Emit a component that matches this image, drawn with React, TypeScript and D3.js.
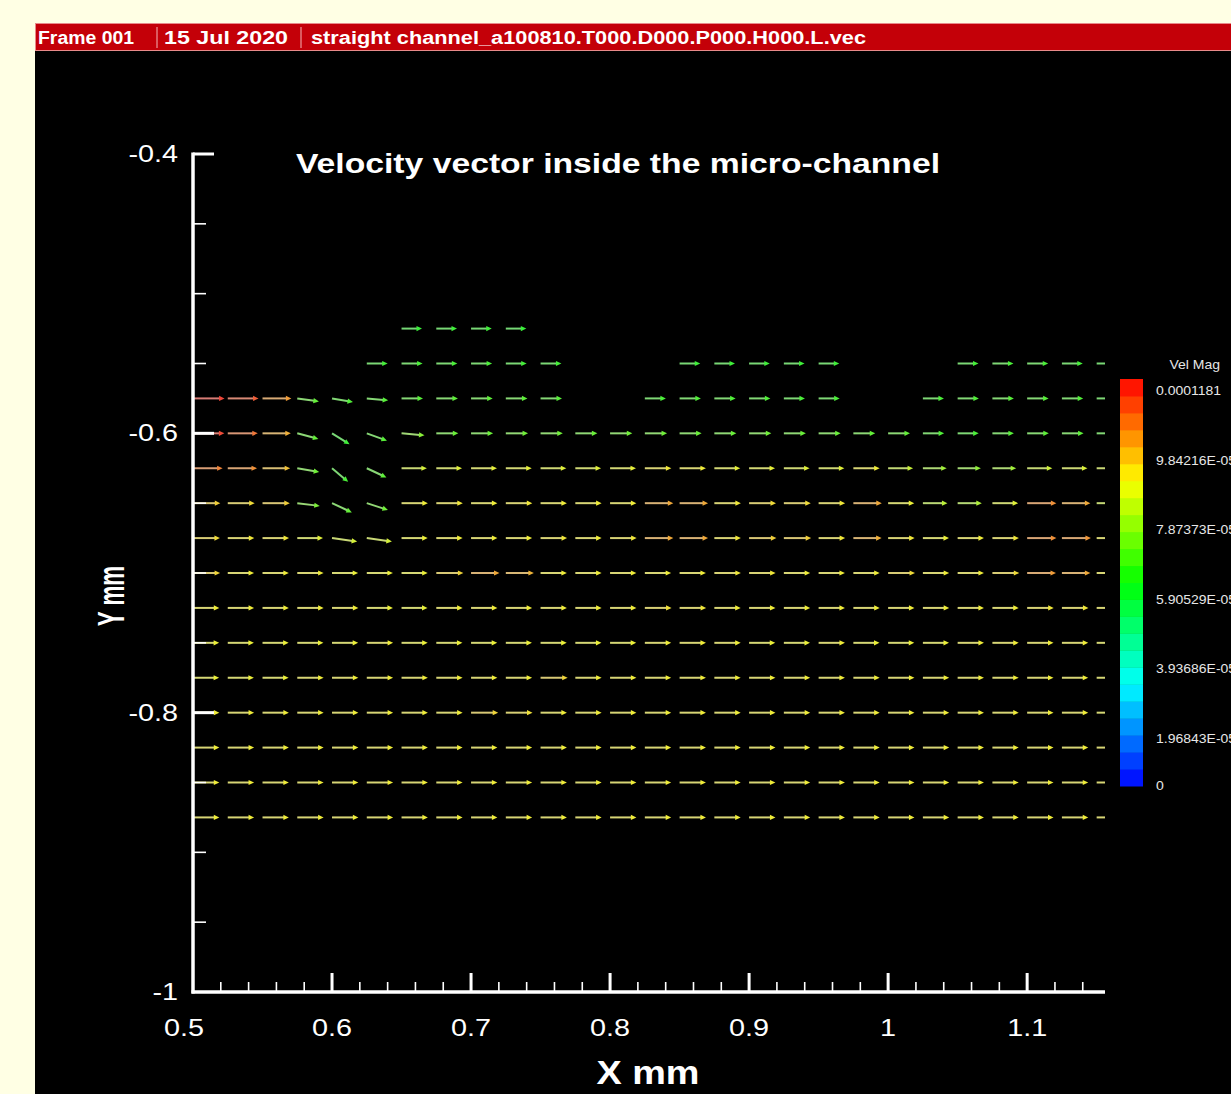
import React from 'react';
import * as d3 from 'd3';

// ---------- data ----------
const headerFields = ['Frame 001', '15 Jul 2020', 'straight channel_a100810.T000.D000.P000.H000.L.vec'];
const chartTitle = 'Velocity vector inside the micro-channel';

// grid columns (X, mm) and rows (Y, mm)
const xCols = [0.5, 0.525, 0.55, 0.575, 0.6, 0.625, 0.65, 0.675, 0.7, 0.725, 0.75, 0.775, 0.8, 0.825,
  0.85, 0.875, 0.9, 0.925, 0.95, 0.975, 1.0, 1.025, 1.05, 1.075, 1.1, 1.125, 1.15];
const yRows = [-0.525, -0.55, -0.575, -0.6, -0.625, -0.65, -0.675, -0.7, -0.725, -0.75, -0.775, -0.8,
  -0.825, -0.85, -0.875];

const N = null;
// velocity magnitude per grid node, in 1e-5 (m/s); null = no vector
const velMag: (number | null)[][] = [
  [N, N, N, N, N, N, 5.9, 6.0, 6.0, 5.9, N, N, N, N, N, N, N, N, N, N, N, N, N, N, N, N, N],
  [N, N, N, N, N, 6.1, 6.2, 6.2, 6.2, 6.1, 6.1, N, N, N, 6.0, 6.0, 6.0, 6.0, 6.0, N, N, N, 6.1, 6.2, 6.2, 6.1, 6.0],
  [11.6, 11.2, 10.2, 6.6, 6.3, 6.4, 6.4, 6.5, 6.5, 6.5, 6.4, N, N, 6.2, 6.3, 6.3, 6.3, 6.2, 6.2, N, N, 6.2, 6.3, 6.4, 6.4, 6.3, 6.2],
  [11.5, 10.8, 9.9, 6.6, 6.0, 6.4, 7.2, 6.7, 6.7, 6.8, 6.8, 6.7, 6.8, 6.8, 6.7, 6.7, 6.8, 6.7, 6.7, 6.6, 6.6, 6.3, 6.2, 6.4, 6.5, 6.5, 6.3],
  [10.6, 10.4, 9.6, 6.8, 6.2, 6.5, 8.4, 8.6, 8.7, 8.7, 8.6, 8.6, 8.7, 9.0, 8.9, 8.7, 8.7, 8.6, 8.6, 8.9, 8.2, 7.6, 7.3, 7.6, 8.3, 8.5, 8.4],
  [9.4, 9.2, 9.4, 7.0, 6.6, 6.8, 8.9, 9.0, 8.9, 9.0, 8.9, 8.9, 8.9, 10.0, 10.0, 9.0, 9.2, 9.2, 9.0, 10.0, 8.8, 8.0, 7.8, 8.6, 10.4, 10.0, 8.3],
  [9.2, 9.0, 9.0, 8.6, 8.4, 8.4, 8.8, 8.9, 8.9, 8.9, 9.0, 8.9, 9.0, 10.0, 10.0, 9.0, 9.4, 9.4, 9.0, 9.9, 9.0, 8.8, 8.9, 9.0, 10.4, 10.3, 8.9],
  [9.3, 8.9, 8.9, 8.9, 8.8, 8.8, 8.8, 9.3, 10.0, 9.8, 8.9, 8.9, 8.9, 8.9, 8.9, 9.0, 9.0, 8.9, 8.9, 8.9, 9.2, 8.9, 8.9, 9.2, 10.2, 10.0, 8.9],
  [8.9, 8.9, 8.9, 8.9, 8.9, 8.8, 8.7, 8.9, 8.9, 8.9, 8.9, 8.9, 8.9, 9.1, 9.0, 8.9, 8.9, 8.9, 8.9, 8.9, 8.9, 8.9, 8.9, 8.9, 9.0, 9.0, 8.9],
  [8.8, 8.8, 8.8, 8.8, 8.8, 8.9, 8.8, 8.8, 8.8, 8.8, 8.8, 8.8, 8.8, 8.9, 8.9, 8.9, 8.8, 8.8, 8.9, 8.8, 8.8, 8.8, 8.9, 8.9, 8.9, 8.9, 8.8],
  [8.8, 8.8, 8.8, 8.9, 8.9, 8.9, 8.9, 8.9, 8.9, 8.9, 9.3, 8.9, 8.9, 8.9, 8.9, 8.9, 8.9, 8.9, 8.9, 8.9, 8.9, 8.9, 8.9, 8.9, 8.9, 8.9, 8.8],
  [8.9, 8.9, 8.9, 8.9, 8.9, 8.9, 8.9, 8.9, 9.3, 9.1, 8.9, 8.9, 8.9, 8.9, 8.9, 8.9, 8.9, 8.9, 8.9, 8.9, 8.9, 8.9, 8.9, 8.9, 8.9, 8.9, 8.8],
  [8.9, 8.9, 8.9, 8.9, 8.9, 8.9, 8.9, 8.9, 8.9, 8.9, 8.9, 8.9, 8.9, 8.9, 8.9, 8.9, 8.9, 8.9, 8.9, 8.9, 8.9, 8.9, 8.9, 8.9, 8.9, 8.9, 8.9],
  [8.9, 8.9, 8.9, 8.9, 8.9, 8.9, 8.9, 8.9, 8.9, 8.9, 8.9, 8.9, 8.9, 8.9, 8.9, 8.9, 8.9, 8.9, 8.9, 8.9, 8.9, 8.9, 8.9, 8.9, 8.9, 8.9, 8.9],
  [8.9, 8.9, 8.9, 8.9, 8.9, 8.9, 8.9, 8.9, 8.9, 8.9, 8.9, 8.9, 8.9, 8.9, 8.9, 8.9, 8.9, 8.9, 8.9, 8.9, 8.9, 8.9, 8.9, 8.9, 8.9, 8.9, 8.9],
];

// [rowIndex, colIndex, angle in degrees] for vectors that are not horizontal
const vecAngles: [number, number, number][] = [
  [2, 3, -8], [2, 4, -10], [2, 5, -5],
  [3, 3, -15], [3, 4, -32], [3, 5, -20], [3, 6, -5],
  [4, 3, -10], [4, 4, -40], [4, 5, -25],
  [5, 3, -7], [5, 4, -25], [5, 5, -18],
  [6, 4, -8], [6, 5, -8],
];

const xMajorTicks = [0.5, 0.6, 0.7, 0.8, 0.9, 1.0, 1.1];
const xTickLabels = ['0.5', '0.6', '0.7', '0.8', '0.9', '1', '1.1'];
const yMajorTicks = [-0.4, -0.6, -0.8, -1];
const yTickLabels = ['-0.4', '-0.6', '-0.8', '-1'];

const legendTitle = 'Vel Mag';
const legendValues = [0.0001181, 9.84216e-5, 7.87373e-5, 5.90529e-5, 3.93686e-5, 1.96843e-5, 0];
const legendLabels = ['0.0001181', '9.84216E-05', '7.87373E-05', '5.90529E-05', '3.93686E-05', '1.96843E-05', '0'];
const velMax = 11.81; // 1e-5 units

// ---------- layout ----------
const W = 1231;
const H = 1094;
const X_MIN = 0.5;
const X_MAX = 1.156;
const STRETCH = 1.2; // horizontal stretch of the exported bitmap's lettering

export default function App() {
  const x = d3.scaleLinear().domain([X_MIN, X_MAX]).range([193, 1105]);
  const y = d3.scaleLinear().domain([-1, -0.4]).range([992, 154]);
  const hue = d3.scaleLinear().domain([0, velMax]).range([240, 0]).clamp(true);
  const lenScale = d3.scaleLinear().domain([0, velMax]).range([9, 32]);
  const baseColor = (v: number) => d3.hsl(hue(v), 1, 0.5).formatHex();
  const lineColor = (v: number) => d3.hsl(hue(v), 0.55, 0.65).formatHex();
  const headColor = (v: number) => d3.hsl(hue(v), 0.85, 0.58).formatHex();

  const angleMap = new Map<string, number>();
  vecAngles.forEach(([r, c, a]) => angleMap.set(`${r}-${c}`, a));

  const vectors: { key: string; x1: number; y1: number; x2: number; y2: number; head: string; v: number }[] = [];
  yRows.forEach((yr, ri) => {
    xCols.forEach((xc, ci) => {
      const v = velMag[ri][ci];
      if (v == null) return;
      const ang = ((angleMap.get(`${ri}-${ci}`) ?? 0) * Math.PI) / 180;
      const L = lenScale(v);
      const dx = Math.cos(ang);
      const dy = -Math.sin(ang);
      const x1 = x(xc);
      const y1 = y(yr);
      const x2 = x1 + L * dx;
      const y2 = y1 + L * dy;
      const hl = 5.5;
      const hw = 2.6;
      const bx = x2 - hl * dx;
      const by = y2 - hl * dy;
      const px = -dy;
      const py = dx;
      const head = `M${x2},${y2}L${bx + hw * px},${by + hw * py}L${bx - hw * px},${by - hw * py}Z`;
      vectors.push({ key: `${ri}-${ci}`, x1, y1, x2: bx + dx, y2: by + dy, head, v });
    });
  });

  const xMinor = d3.range(0.52, 1.15, 0.02).filter((t) => Math.abs(t * 10 - Math.round(t * 10)) > 0.01);
  const yMinor = d3.range(-0.45, -0.99, -0.05).filter((t) => Math.abs(t * 5 - Math.round(t * 5)) > 0.01);

  // colour bar
  const barX = 1120;
  const barW = 23;
  const barTop = 379;
  const barBot = 786;
  const nBands = 24;
  const band = d3.scaleLinear().domain([0, nBands]).range([barBot, barTop]);
  const legendY = d3.scaleLinear().domain([0, 0.0001181]).range([808, 391]);

  const font = 'Liberation Sans, Arial, sans-serif';

  return (
    <svg width={W} height={H} style={{ position: 'absolute', left: 0, top: 0, display: 'block' }} fontFamily={font}>
      <defs>
        <clipPath id="plotClip">
          <rect x={x(X_MIN)} y={y(-0.4)} width={x(X_MAX) - x(X_MIN)} height={y(-1) - y(-0.4)} />
        </clipPath>
      </defs>
      <rect x={0} y={0} width={W} height={H} fill="#ffffe4" />
      <rect x={35} y={23} width={W - 35} height={H - 23} fill="#000" />
      {/* header bar */}
      <rect x={35.5} y={23.5} width={W - 35} height={27} fill="#c40008" stroke="#e88a8a" strokeWidth={1} />
      <line x1={157} x2={157} y1={27} y2={48} stroke="#f3b6b6" strokeWidth={1} />
      <line x1={301} x2={301} y1={27} y2={48} stroke="#f3b6b6" strokeWidth={1} />
      <text x={38} y={44} fill="#fff" fontSize={18} fontWeight="bold" textLength={96} lengthAdjust="spacingAndGlyphs">{headerFields[0]}</text>
      <text x={164} y={44} fill="#fff" fontSize={18} fontWeight="bold" textLength={124} lengthAdjust="spacingAndGlyphs">{headerFields[1]}</text>
      <text x={311} y={44} fill="#fff" fontSize={18} fontWeight="bold" textLength={555} lengthAdjust="spacingAndGlyphs">{headerFields[2]}</text>

      {/* title */}
      <text x={296} y={173} fill="#fff" fontSize={27} fontWeight="bold" textLength={644} lengthAdjust="spacingAndGlyphs">{chartTitle}</text>

      {/* vectors */}
      <g clipPath="url(#plotClip)">
        {vectors.map((d) => (
          <g key={d.key}>
            <line x1={d.x1} y1={d.y1} x2={d.x2} y2={d.y2} stroke={lineColor(d.v)} strokeWidth={2} />
            <path d={d.head} fill={headColor(d.v)} />
          </g>
        ))}
      </g>

      {/* axes */}
      <g stroke="#fff">
        <line x1={x(X_MIN)} x2={x(X_MIN)} y1={y(-0.4) - 1.5} y2={y(-1) + 1.5} strokeWidth={3.5} />
        <line x1={x(X_MIN) - 1.5} x2={x(X_MAX)} y1={y(-1)} y2={y(-1)} strokeWidth={3.5} />
        {yMajorTicks.filter((t) => t !== -1).map((t) => (
          <line key={t} x1={x(X_MIN)} x2={x(X_MIN) + 21} y1={y(t)} y2={y(t)} strokeWidth={3} />
        ))}
        {yMinor.map((t) => (
          <line key={t} x1={x(X_MIN)} x2={x(X_MIN) + 13} y1={y(t)} y2={y(t)} strokeWidth={1.6} />
        ))}
        {xMajorTicks.filter((t) => t !== 0.5).map((t) => (
          <line key={t} x1={x(t)} x2={x(t)} y1={y(-1)} y2={y(-1) - 19} strokeWidth={3} />
        ))}
        {xMinor.map((t) => (
          <line key={t} x1={x(t)} x2={x(t)} y1={y(-1)} y2={y(-1) - 10} strokeWidth={1.6} />
        ))}
      </g>
      {yMajorTicks.map((t, i) => (
        <text key={t} transform={`translate(178,${y(t) + 8}) scale(${STRETCH},1)`} fill="#fff" fontSize={24} textAnchor="end">{yTickLabels[i]}</text>
      ))}
      {xMajorTicks.map((t, i) => (
        <text key={t} transform={`translate(${x(t) - (i === 0 ? 9 : 0)},1036) scale(${STRETCH},1)`} fill="#fff" fontSize={24} textAnchor="middle">{xTickLabels[i]}</text>
      ))}
      <text x={648} y={1084} fill="#fff" fontSize={33} fontWeight="bold" textAnchor="middle" textLength={103} lengthAdjust="spacingAndGlyphs">X mm</text>
      <text transform="translate(124,596) rotate(-90) scale(0.72,1.18)" fill="#fff" fontSize={31} fontWeight="bold" textAnchor="middle">Y mm</text>

      {/* colour bar */}
      {d3.range(nBands).map((i) => (
        <rect key={i} x={barX} y={band(i + 1)} width={barW} height={band(i) - band(i + 1) + 0.5}
          fill={baseColor(((i + 0.5) / nBands) * velMax)} />
      ))}
      <g transform="translate(1156,0) scale(1.12,1)" fill="#e6e6e6" fontSize={12.5}>
        <text x={12} y={369}>{legendTitle}</text>
        {legendValues.map((v, i) => (
          <text key={i} x={0} y={Math.min(legendY(v), barBot) + 4.5}>{legendLabels[i]}</text>
        ))}
      </g>
    </svg>
  );
}
